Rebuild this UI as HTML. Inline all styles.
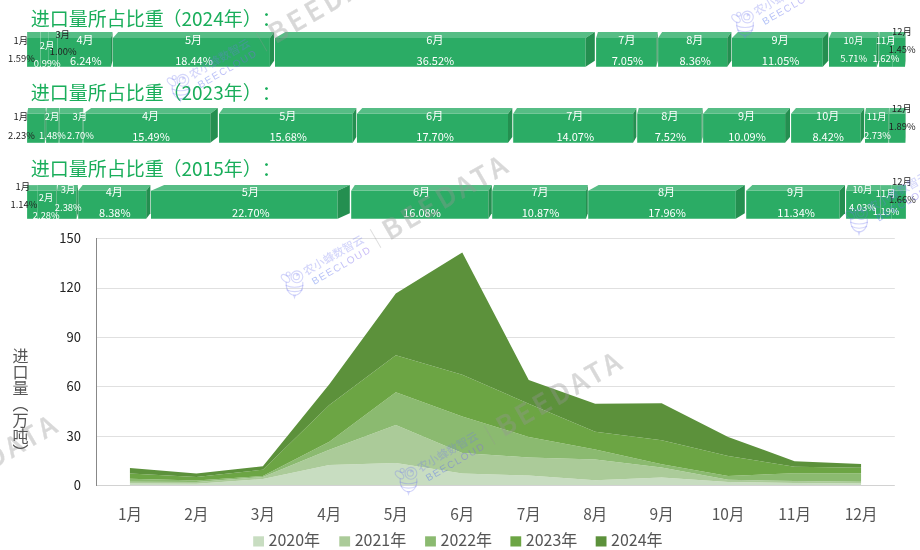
<!DOCTYPE html>
<html><head><meta charset="utf-8"><title>进口量</title>
<style>
html,body{margin:0;padding:0;background:#fff;}
body{width:920px;height:550px;overflow:hidden;position:relative;font-family:'Noto Sans CJK SC','Liberation Sans',sans-serif;}
svg{position:absolute;left:0;top:0;}
svg text{font-family:'Noto Sans CJK SC','Liberation Sans',sans-serif;text-spacing-trim:space-all;}
.yname{position:absolute;left:12.5px;top:348px;writing-mode:vertical-rl;font-size:16px;line-height:16px;color:#555;text-spacing-trim:space-all;letter-spacing:0;}
</style></head><body>
<svg width="920" height="550" viewBox="0 0 920 550">
<line x1="96.5" y1="436.5" x2="894.8" y2="436.5" stroke="#e0e0e0" stroke-width="1"/>
<line x1="96.5" y1="386.5" x2="894.8" y2="386.5" stroke="#e0e0e0" stroke-width="1"/>
<line x1="96.5" y1="337.5" x2="894.8" y2="337.5" stroke="#e0e0e0" stroke-width="1"/>
<line x1="96.5" y1="288.5" x2="894.8" y2="288.5" stroke="#e0e0e0" stroke-width="1"/>
<line x1="96.5" y1="238.5" x2="894.8" y2="238.5" stroke="#e0e0e0" stroke-width="1"/>
<polygon points="129.93,483.49 196.4,483.65 262.87,479.04 329.33,465.05 395.8,462.91 462.27,473.61 528.73,475.58 595.2,480.2 661.67,477.56 728.13,482.01 794.6,482.99 861.07,483.49 861.07,485.3 794.6,485.3 728.13,485.3 661.67,485.3 595.2,485.3 528.73,485.3 462.27,485.3 395.8,485.3 329.33,485.3 262.87,485.3 196.4,485.3 129.93,485.3" fill="#c8ddc1"/>
<polygon points="129.93,481.84 196.4,482.01 262.87,477.07 329.33,449.73 395.8,425.03 462.27,453.03 528.73,457.47 595.2,459.45 661.67,467.52 728.13,479.87 794.6,481.02 861.07,481.68 861.07,483.49 794.6,482.99 728.13,482.01 661.67,477.56 595.2,480.2 528.73,475.58 462.27,473.61 395.8,462.91 329.33,465.05 262.87,479.04 196.4,483.65 129.93,483.49" fill="#abcb99"/>
<polygon points="129.93,478.69 196.4,480.41 262.87,476.01 329.33,441.7 395.8,392.28 462.27,416.6 528.73,436.94 595.2,449.4 661.67,464.15 728.13,475.91 794.6,473.14 861.07,473.28 861.07,481.68 794.6,481.02 728.13,479.87 661.67,467.52 595.2,459.45 528.73,457.47 462.27,453.03 395.8,425.03 329.33,449.73 262.87,477.07 196.4,482.01 129.93,481.84" fill="#8bba70"/>
<polygon points="129.93,473.42 196.4,476.91 262.87,469.63 329.33,405.09 395.8,355.22 462.27,374.78 528.73,403.69 595.2,431.63 661.67,440.31 728.13,456.01 794.6,466.68 861.07,467.85 861.07,473.28 794.6,473.14 728.13,475.91 661.67,464.15 595.2,449.4 528.73,436.94 462.27,416.6 395.8,392.28 329.33,441.7 262.87,476.01 196.4,480.41 129.93,478.69" fill="#6ca544"/>
<polygon points="129.93,468.09 196.4,473.59 262.87,466.28 329.33,384.19 395.8,293.46 462.27,252.46 528.73,380.08 595.2,403.63 661.67,403.3 728.13,436.89 794.6,461.26 861.07,464.06 861.07,467.85 794.6,466.68 728.13,456.01 661.67,440.31 595.2,431.63 528.73,403.69 462.27,374.78 395.8,355.22 329.33,405.09 262.87,469.63 196.4,476.91 129.93,473.42" fill="#5c913b"/>
<line x1="96.5" y1="485.5" x2="894.8" y2="485.5" stroke="#d2d2d2" stroke-width="1"/>
<line x1="96.5" y1="238" x2="96.5" y2="486" stroke="#888" stroke-width="1"/>
<text x="81" y="489.9" font-size="13" fill="#222" text-anchor="end">0</text>
<text x="81" y="440.5" font-size="13" fill="#222" text-anchor="end">30</text>
<text x="81" y="391.1" font-size="13" fill="#222" text-anchor="end">60</text>
<text x="81" y="341.7" font-size="13" fill="#222" text-anchor="end">90</text>
<text x="81" y="292.3" font-size="13" fill="#222" text-anchor="end">120</text>
<text x="81" y="242.9" font-size="13" fill="#222" text-anchor="end">150</text>
<text x="129.93" y="520" font-size="15.5" fill="#555" text-anchor="middle">1月</text>
<text x="196.4" y="520" font-size="15.5" fill="#555" text-anchor="middle">2月</text>
<text x="262.87" y="520" font-size="15.5" fill="#555" text-anchor="middle">3月</text>
<text x="329.33" y="520" font-size="15.5" fill="#555" text-anchor="middle">4月</text>
<text x="395.8" y="520" font-size="15.5" fill="#555" text-anchor="middle">5月</text>
<text x="462.27" y="520" font-size="15.5" fill="#555" text-anchor="middle">6月</text>
<text x="528.73" y="520" font-size="15.5" fill="#555" text-anchor="middle">7月</text>
<text x="595.2" y="520" font-size="15.5" fill="#555" text-anchor="middle">8月</text>
<text x="661.67" y="520" font-size="15.5" fill="#555" text-anchor="middle">9月</text>
<text x="728.13" y="520" font-size="15.5" fill="#555" text-anchor="middle">10月</text>
<text x="794.6" y="520" font-size="15.5" fill="#555" text-anchor="middle">11月</text>
<text x="861.07" y="520" font-size="15.5" fill="#555" text-anchor="middle">12月</text>
<text x="30.8" y="26" font-size="19" fill="#1aae5b">进口量所占比重<tspan dx="-1.3">（2024年）：</tspan></text>
<polygon points="27.1,38 40.48,38 40.48,66.8 27.1,66.8" fill="#2bac65"/>
<polygon points="27.1,38 27.1,32 40.48,32 40.48,38" fill="#56bd85"/>
<polygon points="40.6,38 48.78,38 48.78,66.8 40.6,66.8" fill="#2bac65"/>
<polygon points="40.6,38 40.6,32 48.78,32 48.78,38" fill="#56bd85"/>
<polygon points="48.9,38 57.28,38 57.28,66.8 48.9,66.8" fill="#2bac65"/>
<polygon points="48.9,38 48.9,32 57.28,32 57.28,38" fill="#56bd85"/>
<polygon points="57.4,38 111,38 111,66.8 57.4,66.8" fill="#2bac65"/>
<polygon points="57.4,38 57.9,32 112.5,32 111,38" fill="#56bd85"/>
<polygon points="111,38 112.5,32 112.5,60.8 111,66.8" fill="#248f50"/>
<polygon points="112.9,38 269.9,38 269.9,66.8 112.9,66.8" fill="#2bac65"/>
<polygon points="112.9,38 118.2,32 274.1,32 269.9,38" fill="#56bd85"/>
<polygon points="269.9,38 274.1,32 274.1,60.8 269.9,66.8" fill="#248f50"/>
<polygon points="275,38 585.6,38 585.6,66.8 275,66.8" fill="#2bac65"/>
<polygon points="275,38 285.5,32 594.8,32 585.6,38" fill="#56bd85"/>
<polygon points="585.6,38 594.8,32 594.8,60.8 585.6,66.8" fill="#248f50"/>
<polygon points="596.1,38 656.3,38 656.3,66.8 596.1,66.8" fill="#2bac65"/>
<polygon points="596.1,38 597.9,32 657.7,32 656.3,38" fill="#56bd85"/>
<polygon points="656.3,38 657.7,32 657.7,60.8 656.3,66.8" fill="#248f50"/>
<polygon points="658.1,38 727.2,38 727.2,66.8 658.1,66.8" fill="#2bac65"/>
<polygon points="658.1,38 662.1,32 731.4,32 727.2,38" fill="#56bd85"/>
<polygon points="727.2,38 731.4,32 731.4,60.8 727.2,66.8" fill="#248f50"/>
<polygon points="732,38 822.8,38 822.8,66.8 732,66.8" fill="#2bac65"/>
<polygon points="732,38 737.9,32 828.3,32 822.8,38" fill="#56bd85"/>
<polygon points="822.8,38 828.3,32 828.3,60.8 822.8,66.8" fill="#248f50"/>
<polygon points="829,38 876.8,38 876.8,66.8 829,66.8" fill="#2bac65"/>
<polygon points="829,38 831.7,32 878.6,32 876.8,38" fill="#56bd85"/>
<polygon points="876.8,38 878.6,32 878.6,60.8 876.8,66.8" fill="#248f50"/>
<polygon points="879.1,38 892.78,38 892.78,66.8 879.1,66.8" fill="#2bac65"/>
<polygon points="879.1,38 879.4,32 892.78,32 892.78,38" fill="#56bd85"/>
<polygon points="892.9,38 905,38 905,66.8 892.9,66.8" fill="#2bac65"/>
<polygon points="892.9,38 892.9,32 905.5,32 905,38" fill="#56bd85"/>
<polygon points="905,38 905.5,32 905.5,60.8 905,66.8" fill="#248f50"/>
<text x="30.8" y="100.3" font-size="19" fill="#1aae5b">进口量所占比重<tspan dx="-1.3">（2023年）：</tspan></text>
<polygon points="27.1,113.7 44.8,113.7 44.8,142.8 27.1,142.8" fill="#2bac65"/>
<polygon points="27.1,113.7 28.1,108 45.8,108 44.8,113.7" fill="#56bd85"/>
<polygon points="44.8,113.7 45.8,108 45.8,137.1 44.8,142.8" fill="#248f50"/>
<polygon points="46.1,113.7 58.68,113.7 58.68,142.8 46.1,142.8" fill="#2bac65"/>
<polygon points="46.1,113.7 46.6,108 59.18,108 58.68,113.7" fill="#56bd85"/>
<polygon points="58.68,113.7 59.18,108 59.18,137.1 58.68,142.8" fill="#248f50"/>
<polygon points="59.3,113.7 82.58,113.7 82.58,142.8 59.3,142.8" fill="#2bac65"/>
<polygon points="59.3,113.7 59.8,108 83.18,108 82.58,113.7" fill="#56bd85"/>
<polygon points="82.58,113.7 83.18,108 83.18,137.1 82.58,142.8" fill="#248f50"/>
<polygon points="83.3,113.7 210.3,113.7 210.3,142.8 83.3,142.8" fill="#2bac65"/>
<polygon points="83.3,113.7 91.2,108 217.8,108 210.3,113.7" fill="#56bd85"/>
<polygon points="210.3,113.7 217.8,108 217.8,137.1 210.3,142.8" fill="#248f50"/>
<polygon points="219.05,113.7 352.7,113.7 352.7,142.8 219.05,142.8" fill="#2bac65"/>
<polygon points="219.05,113.7 223.15,108 356.3,108 352.7,113.7" fill="#56bd85"/>
<polygon points="352.7,113.7 356.3,108 356.3,137.1 352.7,142.8" fill="#248f50"/>
<polygon points="357,113.7 508,113.7 508,142.8 357,142.8" fill="#2bac65"/>
<polygon points="357,113.7 362.3,108 512.3,108 508,113.7" fill="#56bd85"/>
<polygon points="508,113.7 512.3,108 512.3,137.1 508,142.8" fill="#248f50"/>
<polygon points="513.2,113.7 633.1,113.7 633.1,142.8 513.2,142.8" fill="#2bac65"/>
<polygon points="513.2,113.7 517,108 636.4,108 633.1,113.7" fill="#56bd85"/>
<polygon points="633.1,113.7 636.4,108 636.4,137.1 633.1,142.8" fill="#248f50"/>
<polygon points="637.2,113.7 701.4,113.7 701.4,142.8 637.2,142.8" fill="#2bac65"/>
<polygon points="637.2,113.7 638.8,108 702.6,108 701.4,113.7" fill="#56bd85"/>
<polygon points="701.4,113.7 702.6,108 702.6,137.1 701.4,142.8" fill="#248f50"/>
<polygon points="703.1,113.7 785.1,113.7 785.1,142.8 703.1,142.8" fill="#2bac65"/>
<polygon points="703.1,113.7 708.3,108 790,108 785.1,113.7" fill="#56bd85"/>
<polygon points="785.1,113.7 790,108 790,137.1 785.1,142.8" fill="#248f50"/>
<polygon points="791.1,113.7 860.4,113.7 860.4,142.8 791.1,142.8" fill="#2bac65"/>
<polygon points="791.1,113.7 796,108 864.2,108 860.4,113.7" fill="#56bd85"/>
<polygon points="860.4,113.7 864.2,108 864.2,137.1 860.4,142.8" fill="#248f50"/>
<polygon points="865,113.7 888.48,113.7 888.48,142.8 865,142.8" fill="#2bac65"/>
<polygon points="865,113.7 866,108 888.98,108 888.48,113.7" fill="#56bd85"/>
<polygon points="888.48,113.7 888.98,108 888.98,137.1 888.48,142.8" fill="#248f50"/>
<polygon points="889.1,113.7 905.4,113.7 905.4,142.8 889.1,142.8" fill="#2bac65"/>
<polygon points="889.1,113.7 889.4,108 905.7,108 905.4,113.7" fill="#56bd85"/>
<polygon points="905.4,113.7 905.7,108 905.7,137.1 905.4,142.8" fill="#248f50"/>
<text x="30.8" y="175.8" font-size="19" fill="#1aae5b">进口量所占比重<tspan dx="-1.3">（2015年）：</tspan></text>
<polygon points="27.1,190.7 37.08,190.7 37.08,218.8 27.1,218.8" fill="#2bac65"/>
<polygon points="27.1,190.7 27.1,185.1 37.08,185.1 37.08,190.7" fill="#56bd85"/>
<polygon points="37.2,190.7 56.38,190.7 56.38,218.8 37.2,218.8" fill="#2bac65"/>
<polygon points="37.2,190.7 37.2,185.1 56.88,185.1 56.38,190.7" fill="#56bd85"/>
<polygon points="56.38,190.7 56.88,185.1 56.88,213.2 56.38,218.8" fill="#248f50"/>
<polygon points="57,190.7 76.5,190.7 76.5,218.8 57,218.8" fill="#2bac65"/>
<polygon points="57,190.7 57.9,185.1 77.9,185.1 76.5,190.7" fill="#56bd85"/>
<polygon points="76.5,190.7 77.9,185.1 77.9,213.2 76.5,218.8" fill="#248f50"/>
<polygon points="78.2,190.7 146.2,190.7 146.2,218.8 78.2,218.8" fill="#2bac65"/>
<polygon points="78.2,190.7 82.7,185.1 150.4,185.1 146.2,190.7" fill="#56bd85"/>
<polygon points="146.2,190.7 150.4,185.1 150.4,213.2 146.2,218.8" fill="#248f50"/>
<polygon points="151,190.7 337.6,190.7 337.6,218.8 151,218.8" fill="#2bac65"/>
<polygon points="151,190.7 164.2,185.1 349.8,185.1 337.6,190.7" fill="#56bd85"/>
<polygon points="337.6,190.7 349.8,185.1 349.8,213.2 337.6,218.8" fill="#248f50"/>
<polygon points="351.2,190.7 488.4,190.7 488.4,218.8 351.2,218.8" fill="#2bac65"/>
<polygon points="351.2,190.7 354.8,185.1 491.8,185.1 488.4,190.7" fill="#56bd85"/>
<polygon points="488.4,190.7 491.8,185.1 491.8,213.2 488.4,218.8" fill="#248f50"/>
<polygon points="492.2,190.7 586,190.7 586,218.8 492.2,218.8" fill="#2bac65"/>
<polygon points="492.2,190.7 494,185.1 587.8,185.1 586,190.7" fill="#56bd85"/>
<polygon points="586,190.7 587.8,185.1 587.8,213.2 586,218.8" fill="#248f50"/>
<polygon points="588.2,190.7 735.8,190.7 735.8,218.8 588.2,218.8" fill="#2bac65"/>
<polygon points="588.2,190.7 598.6,185.1 744.8,185.1 735.8,190.7" fill="#56bd85"/>
<polygon points="735.8,190.7 744.8,185.1 744.8,213.2 735.8,218.8" fill="#248f50"/>
<polygon points="746.2,190.7 839.6,190.7 839.6,218.8 746.2,218.8" fill="#2bac65"/>
<polygon points="746.2,190.7 752.4,185.1 845,185.1 839.6,190.7" fill="#56bd85"/>
<polygon points="839.6,190.7 845,185.1 845,213.2 839.6,218.8" fill="#248f50"/>
<polygon points="846.1,190.7 880.28,190.7 880.28,218.8 846.1,218.8" fill="#2bac65"/>
<polygon points="846.1,190.7 847.7,185.1 880.78,185.1 880.28,190.7" fill="#56bd85"/>
<polygon points="880.28,190.7 880.78,185.1 880.78,213.2 880.28,218.8" fill="#248f50"/>
<polygon points="880.9,190.7 891.08,190.7 891.08,218.8 880.9,218.8" fill="#2bac65"/>
<polygon points="880.9,190.7 880.9,185.1 891.08,185.1 891.08,190.7" fill="#56bd85"/>
<polygon points="891.2,190.7 905.9,190.7 905.9,218.8 891.2,218.8" fill="#2bac65"/>
<polygon points="891.2,190.7 891.2,185.1 905.9,185.1 905.9,190.7" fill="#56bd85"/>
<text x="20.9" y="43.8" font-size="9.4" fill="#222" text-anchor="middle">1月</text>
<text x="21.4" y="61.9" font-size="9.4" fill="#222" text-anchor="middle">1.59%</text>
<text x="47" y="49.3" font-size="9.4" fill="#fff" text-anchor="middle">2月</text>
<text x="47.3" y="67" font-size="9.4" fill="#fff" text-anchor="middle">0.99%</text>
<text x="62.7" y="37.6" font-size="9.4" fill="#222" text-anchor="middle">3月</text>
<text x="63.2" y="55.2" font-size="9.4" fill="#222" text-anchor="middle">1.00%</text>
<text x="85" y="43.8" font-size="11" fill="#fff" text-anchor="middle">4月</text>
<text x="85.8" y="64.9" font-size="11" fill="#fff" text-anchor="middle">6.24%</text>
<text x="193.5" y="43.8" font-size="11" fill="#fff" text-anchor="middle">5月</text>
<text x="194" y="64.8" font-size="11" fill="#fff" text-anchor="middle">18.44%</text>
<text x="434.9" y="43.8" font-size="11" fill="#fff" text-anchor="middle">6月</text>
<text x="435.4" y="64.8" font-size="11" fill="#fff" text-anchor="middle">36.52%</text>
<text x="626.9" y="43.8" font-size="11" fill="#fff" text-anchor="middle">7月</text>
<text x="627.4" y="64.8" font-size="11" fill="#fff" text-anchor="middle">7.05%</text>
<text x="694.75" y="43.8" font-size="11" fill="#fff" text-anchor="middle">8月</text>
<text x="695.25" y="64.8" font-size="11" fill="#fff" text-anchor="middle">8.36%</text>
<text x="780.15" y="43.8" font-size="11" fill="#fff" text-anchor="middle">9月</text>
<text x="780.65" y="64.8" font-size="11" fill="#fff" text-anchor="middle">11.05%</text>
<text x="853.4" y="43.7" font-size="9.4" fill="#fff" text-anchor="middle">10月</text>
<text x="853.8" y="62.2" font-size="9.4" fill="#fff" text-anchor="middle">5.71%</text>
<text x="885.8" y="43.7" font-size="9.4" fill="#fff" text-anchor="middle">11月</text>
<text x="885.9" y="62.2" font-size="9.4" fill="#fff" text-anchor="middle">1.62%</text>
<text x="901.9" y="35" font-size="9.4" fill="#222" text-anchor="middle">12月</text>
<text x="902.2" y="53" font-size="9.4" fill="#222" text-anchor="middle">1.45%</text>
<text x="20.9" y="120.2" font-size="9.4" fill="#222" text-anchor="middle">1月</text>
<text x="21.5" y="138.7" font-size="9.4" fill="#222" text-anchor="middle">2.23%</text>
<text x="52" y="120.2" font-size="9.4" fill="#fff" text-anchor="middle">2月</text>
<text x="52.5" y="138.7" font-size="9.4" fill="#fff" text-anchor="middle">1.48%</text>
<text x="79.8" y="120.2" font-size="9.4" fill="#fff" text-anchor="middle">3月</text>
<text x="80.5" y="138.7" font-size="9.4" fill="#fff" text-anchor="middle">2.70%</text>
<text x="150.55" y="120.1" font-size="11" fill="#fff" text-anchor="middle">4月</text>
<text x="151.05" y="140.7" font-size="11" fill="#fff" text-anchor="middle">15.49%</text>
<text x="287.68" y="120.1" font-size="11" fill="#fff" text-anchor="middle">5月</text>
<text x="288.18" y="140.7" font-size="11" fill="#fff" text-anchor="middle">15.68%</text>
<text x="434.65" y="120.1" font-size="11" fill="#fff" text-anchor="middle">6月</text>
<text x="435.15" y="140.7" font-size="11" fill="#fff" text-anchor="middle">17.70%</text>
<text x="574.8" y="120.1" font-size="11" fill="#fff" text-anchor="middle">7月</text>
<text x="575.3" y="140.7" font-size="11" fill="#fff" text-anchor="middle">14.07%</text>
<text x="669.9" y="120.1" font-size="11" fill="#fff" text-anchor="middle">8月</text>
<text x="670.4" y="140.7" font-size="11" fill="#fff" text-anchor="middle">7.52%</text>
<text x="746.55" y="120.1" font-size="11" fill="#fff" text-anchor="middle">9月</text>
<text x="747.05" y="140.7" font-size="11" fill="#fff" text-anchor="middle">10.09%</text>
<text x="827.65" y="120.1" font-size="11" fill="#fff" text-anchor="middle">10月</text>
<text x="828.15" y="140.7" font-size="11" fill="#fff" text-anchor="middle">8.42%</text>
<text x="876.7" y="120.3" font-size="9.4" fill="#fff" text-anchor="middle">11月</text>
<text x="877.4" y="138.7" font-size="9.4" fill="#fff" text-anchor="middle">2.73%</text>
<text x="901.7" y="111.6" font-size="9.4" fill="#222" text-anchor="middle">12月</text>
<text x="902.2" y="129.6" font-size="9.4" fill="#222" text-anchor="middle">1.89%</text>
<text x="22.9" y="189.6" font-size="9.4" fill="#222" text-anchor="middle">1月</text>
<text x="23.9" y="207.8" font-size="9.4" fill="#222" text-anchor="middle">1.14%</text>
<text x="46.1" y="200.6" font-size="9.4" fill="#fff" text-anchor="middle">2月</text>
<text x="46.3" y="218.6" font-size="9.4" fill="#fff" text-anchor="middle">2.28%</text>
<text x="68" y="192.8" font-size="9.4" fill="#fff" text-anchor="middle">3月</text>
<text x="68.3" y="210.8" font-size="9.4" fill="#fff" text-anchor="middle">2.38%</text>
<text x="114.3" y="195.9" font-size="11" fill="#fff" text-anchor="middle">4月</text>
<text x="114.8" y="216.5" font-size="11" fill="#fff" text-anchor="middle">8.38%</text>
<text x="250.4" y="195.9" font-size="11" fill="#fff" text-anchor="middle">5月</text>
<text x="250.9" y="216.5" font-size="11" fill="#fff" text-anchor="middle">22.70%</text>
<text x="421.5" y="195.9" font-size="11" fill="#fff" text-anchor="middle">6月</text>
<text x="422" y="216.5" font-size="11" fill="#fff" text-anchor="middle">16.08%</text>
<text x="540" y="195.9" font-size="11" fill="#fff" text-anchor="middle">7月</text>
<text x="540.5" y="216.5" font-size="11" fill="#fff" text-anchor="middle">10.87%</text>
<text x="666.5" y="195.9" font-size="11" fill="#fff" text-anchor="middle">8月</text>
<text x="667" y="216.5" font-size="11" fill="#fff" text-anchor="middle">17.96%</text>
<text x="795.6" y="195.9" font-size="11" fill="#fff" text-anchor="middle">9月</text>
<text x="796.1" y="216.5" font-size="11" fill="#fff" text-anchor="middle">11.34%</text>
<text x="862.5" y="193" font-size="9.4" fill="#fff" text-anchor="middle">10月</text>
<text x="862.5" y="210.6" font-size="9.4" fill="#fff" text-anchor="middle">4.03%</text>
<text x="885.7" y="196.6" font-size="9.4" fill="#fff" text-anchor="middle">11月</text>
<text x="886.1" y="214.7" font-size="9.4" fill="#fff" text-anchor="middle">1.19%</text>
<text x="901.9" y="184.7" font-size="9.4" fill="#222" text-anchor="middle">12月</text>
<text x="902.5" y="202.5" font-size="9.4" fill="#222" text-anchor="middle">1.66%</text>
<defs><linearGradient id="wmg" gradientUnits="userSpaceOnUse" x1="18" y1="0" x2="90" y2="0"><stop offset="0" stop-color="rgb(70,110,236)" stop-opacity="0.42"/><stop offset="1" stop-color="rgb(140,95,236)" stop-opacity="0.42"/></linearGradient></defs>
<g transform="translate(178.4,87.2) rotate(-30)">
<text x="16.1" y="0" font-size="11.3" font-weight="500" fill="rgb(112,118,238)" fill-opacity="0.3">农小蜂数智云</text>
<text x="18.2" y="12" font-size="10" letter-spacing="1.5" font-weight="400" fill="url(#wmg)" style="font-family:'Liberation Sans',sans-serif">BEECLOUD</text>
<line x1="94.6" y1="-8.2" x2="94.6" y2="13.2" stroke="rgb(150,150,150)" stroke-opacity="0.32" stroke-width="0.9"/>
<g opacity="0.36"><text x="105.5" y="11.3" font-size="27" letter-spacing="3.8" fill="rgb(150,150,150)" stroke="rgb(150,150,150)" stroke-width="0.4" style="font-family:'Noto Sans CJK SC',sans-serif;font-weight:500">BEEDATA</text></g>
</g>
<g transform="translate(178.4,87.2)" fill="none" stroke="rgb(112,118,238)" stroke-opacity="0.3" stroke-width="1.1" stroke-linecap="round">
<path d="M-6.2,-1.5 C-6.8,6 -3,11.4 2.2,11.4 C7.5,11.4 11,6 10.4,-1.5"/>
<path d="M-6.3,1.8 Q2.2,5.4 10.6,1.8 M-5.3,6.2 Q2.2,9.6 9.8,6.2"/>
<path d="M1.3,11.5 L2.1,14 L2.9,11.5"/>
<circle cx="4.5" cy="-6.9" r="5.9"/>
<circle cx="3.9" cy="-7.2" r="3.1"/>
<ellipse cx="-6.9" cy="-5.3" rx="5" ry="2.9" transform="rotate(38 -6.9 -5.3)"/>
<circle cx="-4.2" cy="-9.7" r="2"/>
</g>
<path transform="translate(178.4,87.2)" d="M3.9,-10.3 A3.1,3.1 0 0 1 6.6,-8.6 L3.9,-7.2 Z" fill="rgb(112,118,238)" fill-opacity="0.3"/>
<g transform="translate(292.4,283.7) rotate(-30)">
<text x="16.1" y="0" font-size="11.3" font-weight="500" fill="rgb(112,118,238)" fill-opacity="0.3">农小蜂数智云</text>
<text x="18.2" y="12" font-size="10" letter-spacing="1.5" font-weight="400" fill="url(#wmg)" style="font-family:'Liberation Sans',sans-serif">BEECLOUD</text>
<line x1="94.6" y1="-8.2" x2="94.6" y2="13.2" stroke="rgb(150,150,150)" stroke-opacity="0.32" stroke-width="0.9"/>
<g opacity="0.36"><text x="105.5" y="11.3" font-size="27" letter-spacing="3.8" fill="rgb(150,150,150)" stroke="rgb(150,150,150)" stroke-width="0.4" style="font-family:'Noto Sans CJK SC',sans-serif;font-weight:500">BEEDATA</text></g>
</g>
<g transform="translate(292.4,283.7)" fill="none" stroke="rgb(112,118,238)" stroke-opacity="0.3" stroke-width="1.1" stroke-linecap="round">
<path d="M-6.2,-1.5 C-6.8,6 -3,11.4 2.2,11.4 C7.5,11.4 11,6 10.4,-1.5"/>
<path d="M-6.3,1.8 Q2.2,5.4 10.6,1.8 M-5.3,6.2 Q2.2,9.6 9.8,6.2"/>
<path d="M1.3,11.5 L2.1,14 L2.9,11.5"/>
<circle cx="4.5" cy="-6.9" r="5.9"/>
<circle cx="3.9" cy="-7.2" r="3.1"/>
<ellipse cx="-6.9" cy="-5.3" rx="5" ry="2.9" transform="rotate(38 -6.9 -5.3)"/>
<circle cx="-4.2" cy="-9.7" r="2"/>
</g>
<path transform="translate(292.4,283.7)" d="M3.9,-10.3 A3.1,3.1 0 0 1 6.6,-8.6 L3.9,-7.2 Z" fill="rgb(112,118,238)" fill-opacity="0.3"/>
<g transform="translate(406.4,480.2) rotate(-30)">
<text x="16.1" y="0" font-size="11.3" font-weight="500" fill="rgb(112,118,238)" fill-opacity="0.3">农小蜂数智云</text>
<text x="18.2" y="12" font-size="10" letter-spacing="1.5" font-weight="400" fill="url(#wmg)" style="font-family:'Liberation Sans',sans-serif">BEECLOUD</text>
<line x1="94.6" y1="-8.2" x2="94.6" y2="13.2" stroke="rgb(150,150,150)" stroke-opacity="0.32" stroke-width="0.9"/>
<g opacity="0.36"><text x="105.5" y="11.3" font-size="27" letter-spacing="3.8" fill="rgb(150,150,150)" stroke="rgb(150,150,150)" stroke-width="0.4" style="font-family:'Noto Sans CJK SC',sans-serif;font-weight:500">BEEDATA</text></g>
</g>
<g transform="translate(406.4,480.2)" fill="none" stroke="rgb(112,118,238)" stroke-opacity="0.3" stroke-width="1.1" stroke-linecap="round">
<path d="M-6.2,-1.5 C-6.8,6 -3,11.4 2.2,11.4 C7.5,11.4 11,6 10.4,-1.5"/>
<path d="M-6.3,1.8 Q2.2,5.4 10.6,1.8 M-5.3,6.2 Q2.2,9.6 9.8,6.2"/>
<path d="M1.3,11.5 L2.1,14 L2.9,11.5"/>
<circle cx="4.5" cy="-6.9" r="5.9"/>
<circle cx="3.9" cy="-7.2" r="3.1"/>
<ellipse cx="-6.9" cy="-5.3" rx="5" ry="2.9" transform="rotate(38 -6.9 -5.3)"/>
<circle cx="-4.2" cy="-9.7" r="2"/>
</g>
<path transform="translate(406.4,480.2)" d="M3.9,-10.3 A3.1,3.1 0 0 1 6.6,-8.6 L3.9,-7.2 Z" fill="rgb(112,118,238)" fill-opacity="0.3"/>
<g transform="translate(742.9,23.9) rotate(-30)">
<text x="16.1" y="0" font-size="11.3" font-weight="500" fill="rgb(112,118,238)" fill-opacity="0.3">农小蜂数智云</text>
<text x="18.2" y="12" font-size="10" letter-spacing="1.5" font-weight="400" fill="url(#wmg)" style="font-family:'Liberation Sans',sans-serif">BEECLOUD</text>
<line x1="94.6" y1="-8.2" x2="94.6" y2="13.2" stroke="rgb(150,150,150)" stroke-opacity="0.32" stroke-width="0.9"/>
<g opacity="0.36"><text x="105.5" y="11.3" font-size="27" letter-spacing="3.8" fill="rgb(150,150,150)" stroke="rgb(150,150,150)" stroke-width="0.4" style="font-family:'Noto Sans CJK SC',sans-serif;font-weight:500">BEEDATA</text></g>
</g>
<g transform="translate(742.9,23.9)" fill="none" stroke="rgb(112,118,238)" stroke-opacity="0.3" stroke-width="1.1" stroke-linecap="round">
<path d="M-6.2,-1.5 C-6.8,6 -3,11.4 2.2,11.4 C7.5,11.4 11,6 10.4,-1.5"/>
<path d="M-6.3,1.8 Q2.2,5.4 10.6,1.8 M-5.3,6.2 Q2.2,9.6 9.8,6.2"/>
<path d="M1.3,11.5 L2.1,14 L2.9,11.5"/>
<circle cx="4.5" cy="-6.9" r="5.9"/>
<circle cx="3.9" cy="-7.2" r="3.1"/>
<ellipse cx="-6.9" cy="-5.3" rx="5" ry="2.9" transform="rotate(38 -6.9 -5.3)"/>
<circle cx="-4.2" cy="-9.7" r="2"/>
</g>
<path transform="translate(742.9,23.9)" d="M3.9,-10.3 A3.1,3.1 0 0 1 6.6,-8.6 L3.9,-7.2 Z" fill="rgb(112,118,238)" fill-opacity="0.3"/>
<g transform="translate(856.9,220.4) rotate(-30)">
<text x="16.1" y="0" font-size="11.3" font-weight="500" fill="rgb(112,118,238)" fill-opacity="0.3">农小蜂数智云</text>
<text x="18.2" y="12" font-size="10" letter-spacing="1.5" font-weight="400" fill="url(#wmg)" style="font-family:'Liberation Sans',sans-serif">BEECLOUD</text>
<line x1="94.6" y1="-8.2" x2="94.6" y2="13.2" stroke="rgb(150,150,150)" stroke-opacity="0.32" stroke-width="0.9"/>
<g opacity="0.36"><text x="105.5" y="11.3" font-size="27" letter-spacing="3.8" fill="rgb(150,150,150)" stroke="rgb(150,150,150)" stroke-width="0.4" style="font-family:'Noto Sans CJK SC',sans-serif;font-weight:500">BEEDATA</text></g>
</g>
<g transform="translate(856.9,220.4)" fill="none" stroke="rgb(112,118,238)" stroke-opacity="0.3" stroke-width="1.1" stroke-linecap="round">
<path d="M-6.2,-1.5 C-6.8,6 -3,11.4 2.2,11.4 C7.5,11.4 11,6 10.4,-1.5"/>
<path d="M-6.3,1.8 Q2.2,5.4 10.6,1.8 M-5.3,6.2 Q2.2,9.6 9.8,6.2"/>
<path d="M1.3,11.5 L2.1,14 L2.9,11.5"/>
<circle cx="4.5" cy="-6.9" r="5.9"/>
<circle cx="3.9" cy="-7.2" r="3.1"/>
<ellipse cx="-6.9" cy="-5.3" rx="5" ry="2.9" transform="rotate(38 -6.9 -5.3)"/>
<circle cx="-4.2" cy="-9.7" r="2"/>
</g>
<path transform="translate(856.9,220.4)" d="M3.9,-10.3 A3.1,3.1 0 0 1 6.6,-8.6 L3.9,-7.2 Z" fill="rgb(112,118,238)" fill-opacity="0.3"/>
<g transform="translate(-158.1,543.5) rotate(-30)">
<text x="16.1" y="0" font-size="11.3" font-weight="500" fill="rgb(112,118,238)" fill-opacity="0.3">农小蜂数智云</text>
<text x="18.2" y="12" font-size="10" letter-spacing="1.5" font-weight="400" fill="url(#wmg)" style="font-family:'Liberation Sans',sans-serif">BEECLOUD</text>
<line x1="94.6" y1="-8.2" x2="94.6" y2="13.2" stroke="rgb(150,150,150)" stroke-opacity="0.32" stroke-width="0.9"/>
<g opacity="0.36"><text x="105.5" y="11.3" font-size="27" letter-spacing="3.8" fill="rgb(150,150,150)" stroke="rgb(150,150,150)" stroke-width="0.4" style="font-family:'Noto Sans CJK SC',sans-serif;font-weight:500">BEEDATA</text></g>
</g>
<g transform="translate(-158.1,543.5)" fill="none" stroke="rgb(112,118,238)" stroke-opacity="0.3" stroke-width="1.1" stroke-linecap="round">
<path d="M-6.2,-1.5 C-6.8,6 -3,11.4 2.2,11.4 C7.5,11.4 11,6 10.4,-1.5"/>
<path d="M-6.3,1.8 Q2.2,5.4 10.6,1.8 M-5.3,6.2 Q2.2,9.6 9.8,6.2"/>
<path d="M1.3,11.5 L2.1,14 L2.9,11.5"/>
<circle cx="4.5" cy="-6.9" r="5.9"/>
<circle cx="3.9" cy="-7.2" r="3.1"/>
<ellipse cx="-6.9" cy="-5.3" rx="5" ry="2.9" transform="rotate(38 -6.9 -5.3)"/>
<circle cx="-4.2" cy="-9.7" r="2"/>
</g>
<path transform="translate(-158.1,543.5)" d="M3.9,-10.3 A3.1,3.1 0 0 1 6.6,-8.6 L3.9,-7.2 Z" fill="rgb(112,118,238)" fill-opacity="0.3"/>
<rect x="253.2" y="536.3" width="10.8" height="10.2" fill="#c8ddc1"/>
<text x="268.6" y="545.6" font-size="16" fill="#555">2020年</text>
<rect x="339.3" y="536.3" width="10.8" height="10.2" fill="#abcb99"/>
<text x="354.7" y="545.6" font-size="16" fill="#555">2021年</text>
<rect x="425.1" y="536.3" width="10.8" height="10.2" fill="#8bba70"/>
<text x="440.5" y="545.6" font-size="16" fill="#555">2022年</text>
<rect x="510.4" y="536.3" width="10.8" height="10.2" fill="#6ca544"/>
<text x="525.8" y="545.6" font-size="16" fill="#555">2023年</text>
<rect x="595.7" y="536.3" width="10.8" height="10.2" fill="#5c913b"/>
<text x="611.1" y="545.6" font-size="16" fill="#555">2024年</text>
</svg>
<div class="yname">进口量（万吨）</div>
</body></html>
